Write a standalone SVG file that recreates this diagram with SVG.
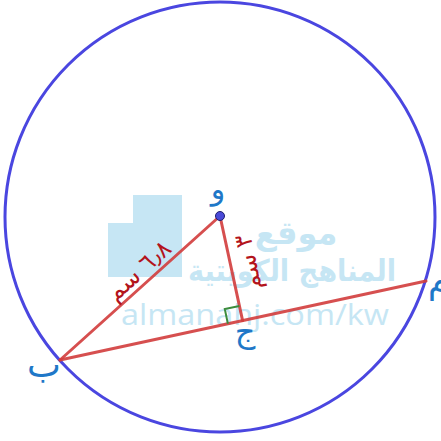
<svg xmlns="http://www.w3.org/2000/svg" width="441" height="441" viewBox="0 0 441 441">
<style>
.seg{stroke:#d23c3c;stroke-width:3;stroke-linecap:round;fill:none;stroke-opacity:0.9}
.pt{font-family:"DejaVu Sans",sans-serif;fill:#1f78c8;text-anchor:middle}
.len{font-family:"DejaVu Sans",sans-serif;fill:#b3141c;font-size:24px;text-anchor:middle}
.wm{fill:#c6e6f4}
</style>
<rect width="441" height="441" fill="#ffffff"/>
<g id="watermark">
<path class="wm" d="M133,195 H182 V277 H108 V223 H133 Z"/>
<text x="296" y="244" font-family="DejaVu Sans, sans-serif" font-size="32" font-weight="bold" fill="#c6e6f4" text-anchor="middle">موقع</text>
<text x="292" y="281" font-family="DejaVu Sans, sans-serif" font-size="30" font-weight="bold" fill="#c6e6f4" text-anchor="middle" textLength="208" lengthAdjust="spacingAndGlyphs">المناهج الكويتية</text>
<text x="255" y="325" font-family="Open Sans, sans-serif" font-size="30" fill="#c6e6f4" text-anchor="middle" textLength="268" lengthAdjust="spacingAndGlyphs">almanahj.com/kw</text>
</g>
<g id="circle">
<circle cx="220" cy="217" r="215" fill="none" stroke="#4a46e0" stroke-width="3"/>
</g>
<g id="connectors">
<line class="seg" x1="60" y1="360" x2="220" y2="216"/>
<line class="seg" x1="220" y1="216" x2="242.6" y2="320.6"/>
<line class="seg" x1="60" y1="360" x2="426" y2="281"/>
<path d="M227.9,323.8 L224.8,309.1 L239.4,305.9" fill="none" stroke="#3c8c3c" stroke-width="2"/>
</g>
<g id="node-waw">
<circle cx="220" cy="216" r="4.5" fill="#4a4ad8" stroke="#1e1e6e" stroke-width="1"/>
<text class="pt" x="218" y="199" font-size="30">و</text>
</g>
<g id="node-ba">
<text class="pt" x="44" y="377" font-size="36">ب</text>
</g>
<g id="node-jim">
<text class="pt" x="245" y="342" font-size="32">ج</text>
</g>
<g id="node-mim">
<text class="pt" x="428" y="293" font-size="34" style="text-anchor:start">م</text>
</g>
<g id="labels">
<text class="len" transform="translate(140,272) rotate(-42)" y="6">٦٫٨ سم</text>
<text class="len" transform="translate(250,262) rotate(-102)" y="6">٣ سم</text>
</g>
</svg>
